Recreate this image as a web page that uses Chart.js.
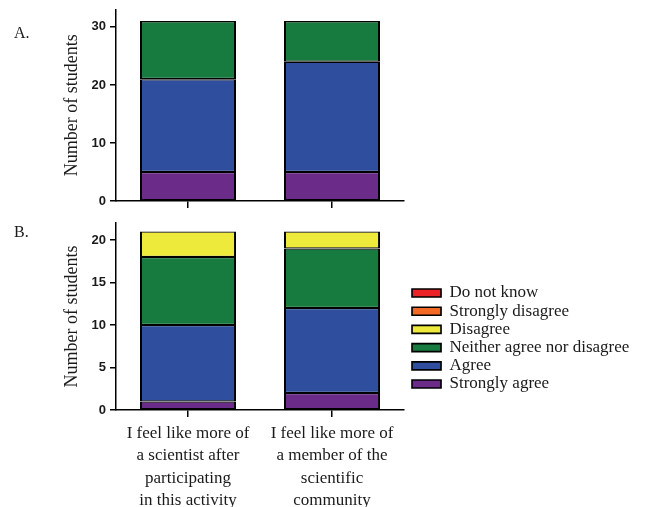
<!DOCTYPE html>
<html>
<head>
<meta charset="utf-8">
<script src="https://cdn.jsdelivr.net/npm/chart.js@4.4.1/dist/chart.umd.min.js"></script>
<style>
  html, body { margin: 0; padding: 0; background: #fff; overflow: hidden; }
  #wrap { position: relative; width: 647px; height: 507px; overflow: hidden; }
  canvas { position: absolute; left: 0; }
  #chartA { top: 0; }
  #chartB { top: 210px; }
  .panel { position: absolute; left: 14px; font: 16px "Liberation Serif", "Times New Roman", serif; line-height: 16px; color: #1a1a1a; }
</style>
</head>
<body>
<div id="wrap">
  <canvas id="chartA" width="647" height="215"></canvas>
  <canvas id="chartB" width="647" height="310"></canvas>
  <div class="panel" style="top:25px">A.</div>
  <div class="panel" style="top:224px">B.</div>
</div>
<script>
const statements = [
  ["I feel like more of", "a scientist after", "participating", "in this activity"],
  ["I feel like more of", "a member of the", "scientific", "community"]
];
// stacked bottom -> top
const responses = ["Strongly agree", "Agree", "Neither agree nor disagree", "Disagree", "Strongly disagree", "Do not know"];
const colours = ["#6b2b88", "#2f4f9e", "#177b3f", "#eeea3c", "#f26a24", "#ec2227"];

// one row per response, one value per statement
const countsA = [[5, 5], [16, 19], [10, 7], [0, 0], [0, 0], [0, 0]];
const countsB = [[1, 2], [9, 10], [8, 7], [3, 2], [0, 0], [0, 0]];

const ticksA = [0, 10, 20, 30];
const ticksB = [0, 5, 10, 15, 20];

const serif = '"Liberation Serif", "Times New Roman", serif';
const sans = '"Liberation Sans", Arial, sans-serif';
const ink = "#1a1a1a";

// the legend sits beside the lower panel, a bit off its default spot;
// widen its box to the canvas edge so the long labels are not clipped
const legendShift = {
  id: "legendShift",
  afterLayout(chart) {
    const lg = chart.legend;
    if (!lg || !lg.options.display) return;
    lg.left += 6.8;
    lg.right = chart.width;
    lg.width = lg.right - lg.left;
    lg.top -= 31.4; lg.bottom -= 31.4;
  }
};

function makeChart(id, counts, yMax, tickVals, opts) {
  const datasets = responses.map((r, i) => ({
    label: r,
    data: counts[i],
    backgroundColor: colours[i],
    borderColor: "#000",
    borderWidth: { left: 2, right: 2, top: 1.3, bottom: 1.3 },
    borderSkipped: false,
    barPercentage: 0.667,
    categoryPercentage: 1
  }));

  return new Chart(document.getElementById(id), {
    type: "bar",
    data: { labels: statements, datasets },
    plugins: [legendShift],
    options: {
      responsive: false,
      animation: false,
      layout: { padding: opts.padding },
      plugins: {
        tooltip: { enabled: false },
        legend: {
          display: opts.legend,
          position: "right",
          reverse: true,
          labels: {
            boxWidth: 29,
            boxHeight: 8,
            padding: 1.2,
            color: ink,
            font: { family: serif, size: 17 }
          }
        }
      },
      scales: {
        x: {
          stacked: true,
          border: { display: true, color: "#000", width: 1.5 },
          grid: { display: true, drawOnChartArea: false, drawTicks: true, tickLength: 7, offset: false, color: "#000", lineWidth: 1.5 },
          ticks: {
            display: opts.xLabels,
            padding: 5,
            maxRotation: 0,
            autoSkip: false,
            color: ink,
            font: { family: serif, size: 17, lineHeight: 1.32 }
          }
        },
        y: {
          stacked: true,
          min: 0,
          max: yMax,
          border: { display: true, color: "#000", width: 1.5 },
          grid: { display: true, drawOnChartArea: false, drawTicks: true, tickLength: 6, color: "#000", lineWidth: 1.5 },
          ticks: {
            padding: 4,
            color: ink,
            font: { family: sans, size: 13, weight: "bold" }
          },
          afterBuildTicks: s => { s.ticks = tickVals.map(v => ({ value: v })); },
          afterFit: s => { s.width = 116; s.paddingTop = 0; s.paddingBottom = 0; },
          title: {
            display: true,
            text: "Number of students",
            color: ink,
            font: { family: serif, size: 18 },
            padding: { top: 61, bottom: 0 }
          }
        }
      }
    }
  });
}

makeChart("chartA", countsA, 33, ticksA, {
  legend: false,
  xLabels: false,
  padding: { left: 0, top: 9.5, right: 243, bottom: 7 }
});

// right boxes are capped at a quarter of the free width, hence the large
// right padding that puts the plot's right edge where the figure has it
makeChart("chartB", countsB, 22, ticksB, {
  legend: true,
  xLabels: true,
  padding: { left: 0, top: 13, right: 108.3, bottom: 3.2 }
});
</script>
</body>
</html>
